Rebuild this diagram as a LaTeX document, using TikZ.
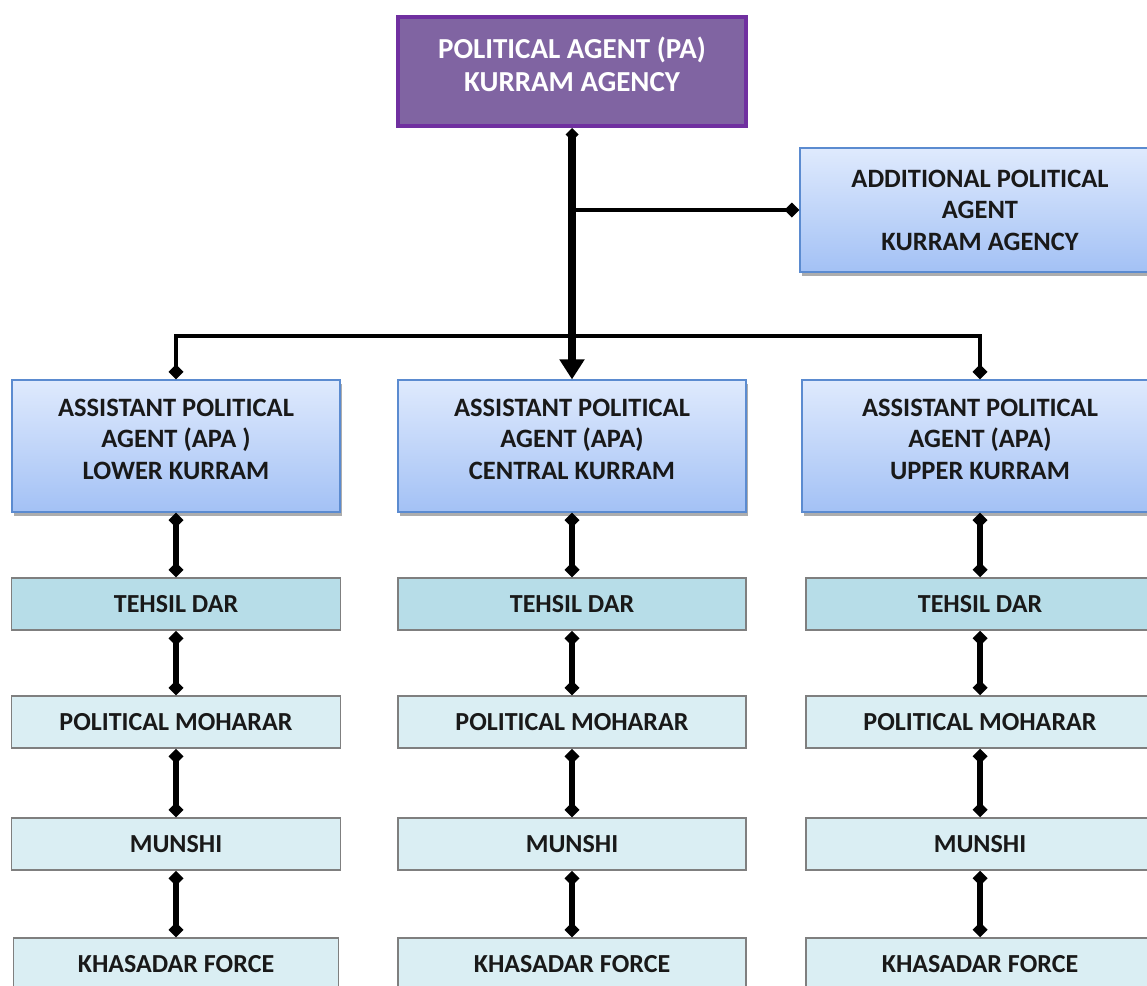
\documentclass[tikz,border=0pt]{standalone}
\usepackage{fontspec}
\setmainfont{Carlito}
\usetikzlibrary{arrows.meta,shadows}
\definecolor{paborder}{HTML}{7030A0}
\definecolor{pafill}{HTML}{8064A2}
\definecolor{bluetop}{HTML}{DFEAFD}
\definecolor{bluebot}{HTML}{A3C1F5}
\definecolor{blueborder}{HTML}{5B8BD0}
\definecolor{tehfill}{HTML}{B7DDE8}
\definecolor{lowfill}{HTML}{DAEEF3}
\definecolor{greyborder}{HTML}{7F7F7F}
\tikzset{
  pabox/.style={draw=paborder, line width=4pt, fill=pafill, text=white,
    minimum width=348pt, minimum height=109pt, align=center,
    font=\bfseries\fontsize{29}{33}\selectfont, inner sep=0pt},
  bluebox/.style={draw=blueborder, line width=1.2pt, top color=bluetop, bottom color=bluebot,
    drop shadow={shadow xshift=2pt, shadow yshift=-4pt, fill=black!40, opacity=0.8},
    minimum height=132pt, align=center, text=black!90,
    font=\bfseries\fontsize{26.5}{31.5}\selectfont, inner sep=0pt},
  lowbox/.style={draw=greyborder, line width=1.5pt, fill=lowfill,
    minimum height=52pt, align=center, text=black!90,
    font=\bfseries\fontsize{26}{28}\selectfont, inner sep=0pt},
  tehbox/.style={lowbox, fill=tehfill},
  conn/.style={line width=6pt, {Diamond[width=15pt,length=15pt]}-{Diamond[width=15pt,length=15pt]}},
  thin conn/.style={line width=4pt},
}
\begin{document}
\begin{tikzpicture}[x=1pt,y=-1pt]
\useasboundingbox (0,0) rectangle (1147,985);
\clip (0,0) rectangle (1147,985);
% boxes
\node[pabox] (pa) at (572,71.5) {POLITICAL AGENT (PA)\\KURRAM AGENCY\\[-19pt]\mbox{}};
\node[bluebox, minimum width=360pt, minimum height=124pt] (add) at (980,210) {ADDITIONAL POLITICAL\\AGENT\\KURRAM AGENCY};
\node[bluebox, minimum width=328pt] (apa1) at (176,446) {ASSISTANT POLITICAL\\AGENT (APA )\\LOWER KURRAM\\[-17.5pt]\mbox{}};
\node[bluebox, minimum width=348pt] (apa2) at (572,446) {ASSISTANT POLITICAL\\AGENT (APA)\\CENTRAL KURRAM\\[-17.5pt]\mbox{}};
\node[bluebox, minimum width=356pt] (apa3) at (980,446) {ASSISTANT POLITICAL\\AGENT (APA)\\UPPER KURRAM\\[-17.5pt]\mbox{}};
% lower rows
\node[tehbox, minimum width=329pt] (t1) at (176,604) {TEHSIL DAR};
\node[tehbox, minimum width=348pt] (t2) at (572,604) {TEHSIL DAR};
\node[tehbox, minimum width=348pt] (t3) at (980,604) {TEHSIL DAR};
\node[lowbox, minimum width=329pt] (m1) at (176,722) {POLITICAL MOHARAR};
\node[lowbox, minimum width=348pt] (m2) at (572,722) {POLITICAL MOHARAR};
\node[lowbox, minimum width=348pt] (m3) at (980,722) {POLITICAL MOHARAR};
\node[lowbox, minimum width=329pt] (u1) at (176,844) {MUNSHI};
\node[lowbox, minimum width=348pt] (u2) at (572,844) {MUNSHI};
\node[lowbox, minimum width=348pt] (u3) at (980,844) {MUNSHI};
\node[lowbox, minimum width=325pt] (k1) at (176,964) {KHASADAR FORCE};
\node[lowbox, minimum width=348pt] (k2) at (572,964) {KHASADAR FORCE};
\node[lowbox, minimum width=348pt] (k3) at (980,964) {KHASADAR FORCE};
% trunk
\coordinate (bj) at (572,210);
\draw[thin conn, -{Diamond[width=15pt,length=15pt]}] (bj) -- (add.west);
\draw[thin conn, {Diamond[width=15pt,length=15pt]}-{Diamond[width=15pt,length=15pt]}]
  (apa1.north) -- ++(0,-43) -| (apa3.north);
\draw[line width=8pt, {Diamond[width=13pt,length=13pt]}-{Triangle[width=24pt,length=20pt]}]
  (pa.south) -- (apa2.north);
% columns
\foreach \c in {1,2,3}{
  \draw[conn] (apa\c.south) -- (t\c.north);
  \draw[conn] (t\c.south) -- (m\c.north);
  \draw[conn] (m\c.south) -- (u\c.north);
  \draw[conn] (u\c.south) -- (k\c.north);
}
\end{tikzpicture}
\end{document}
